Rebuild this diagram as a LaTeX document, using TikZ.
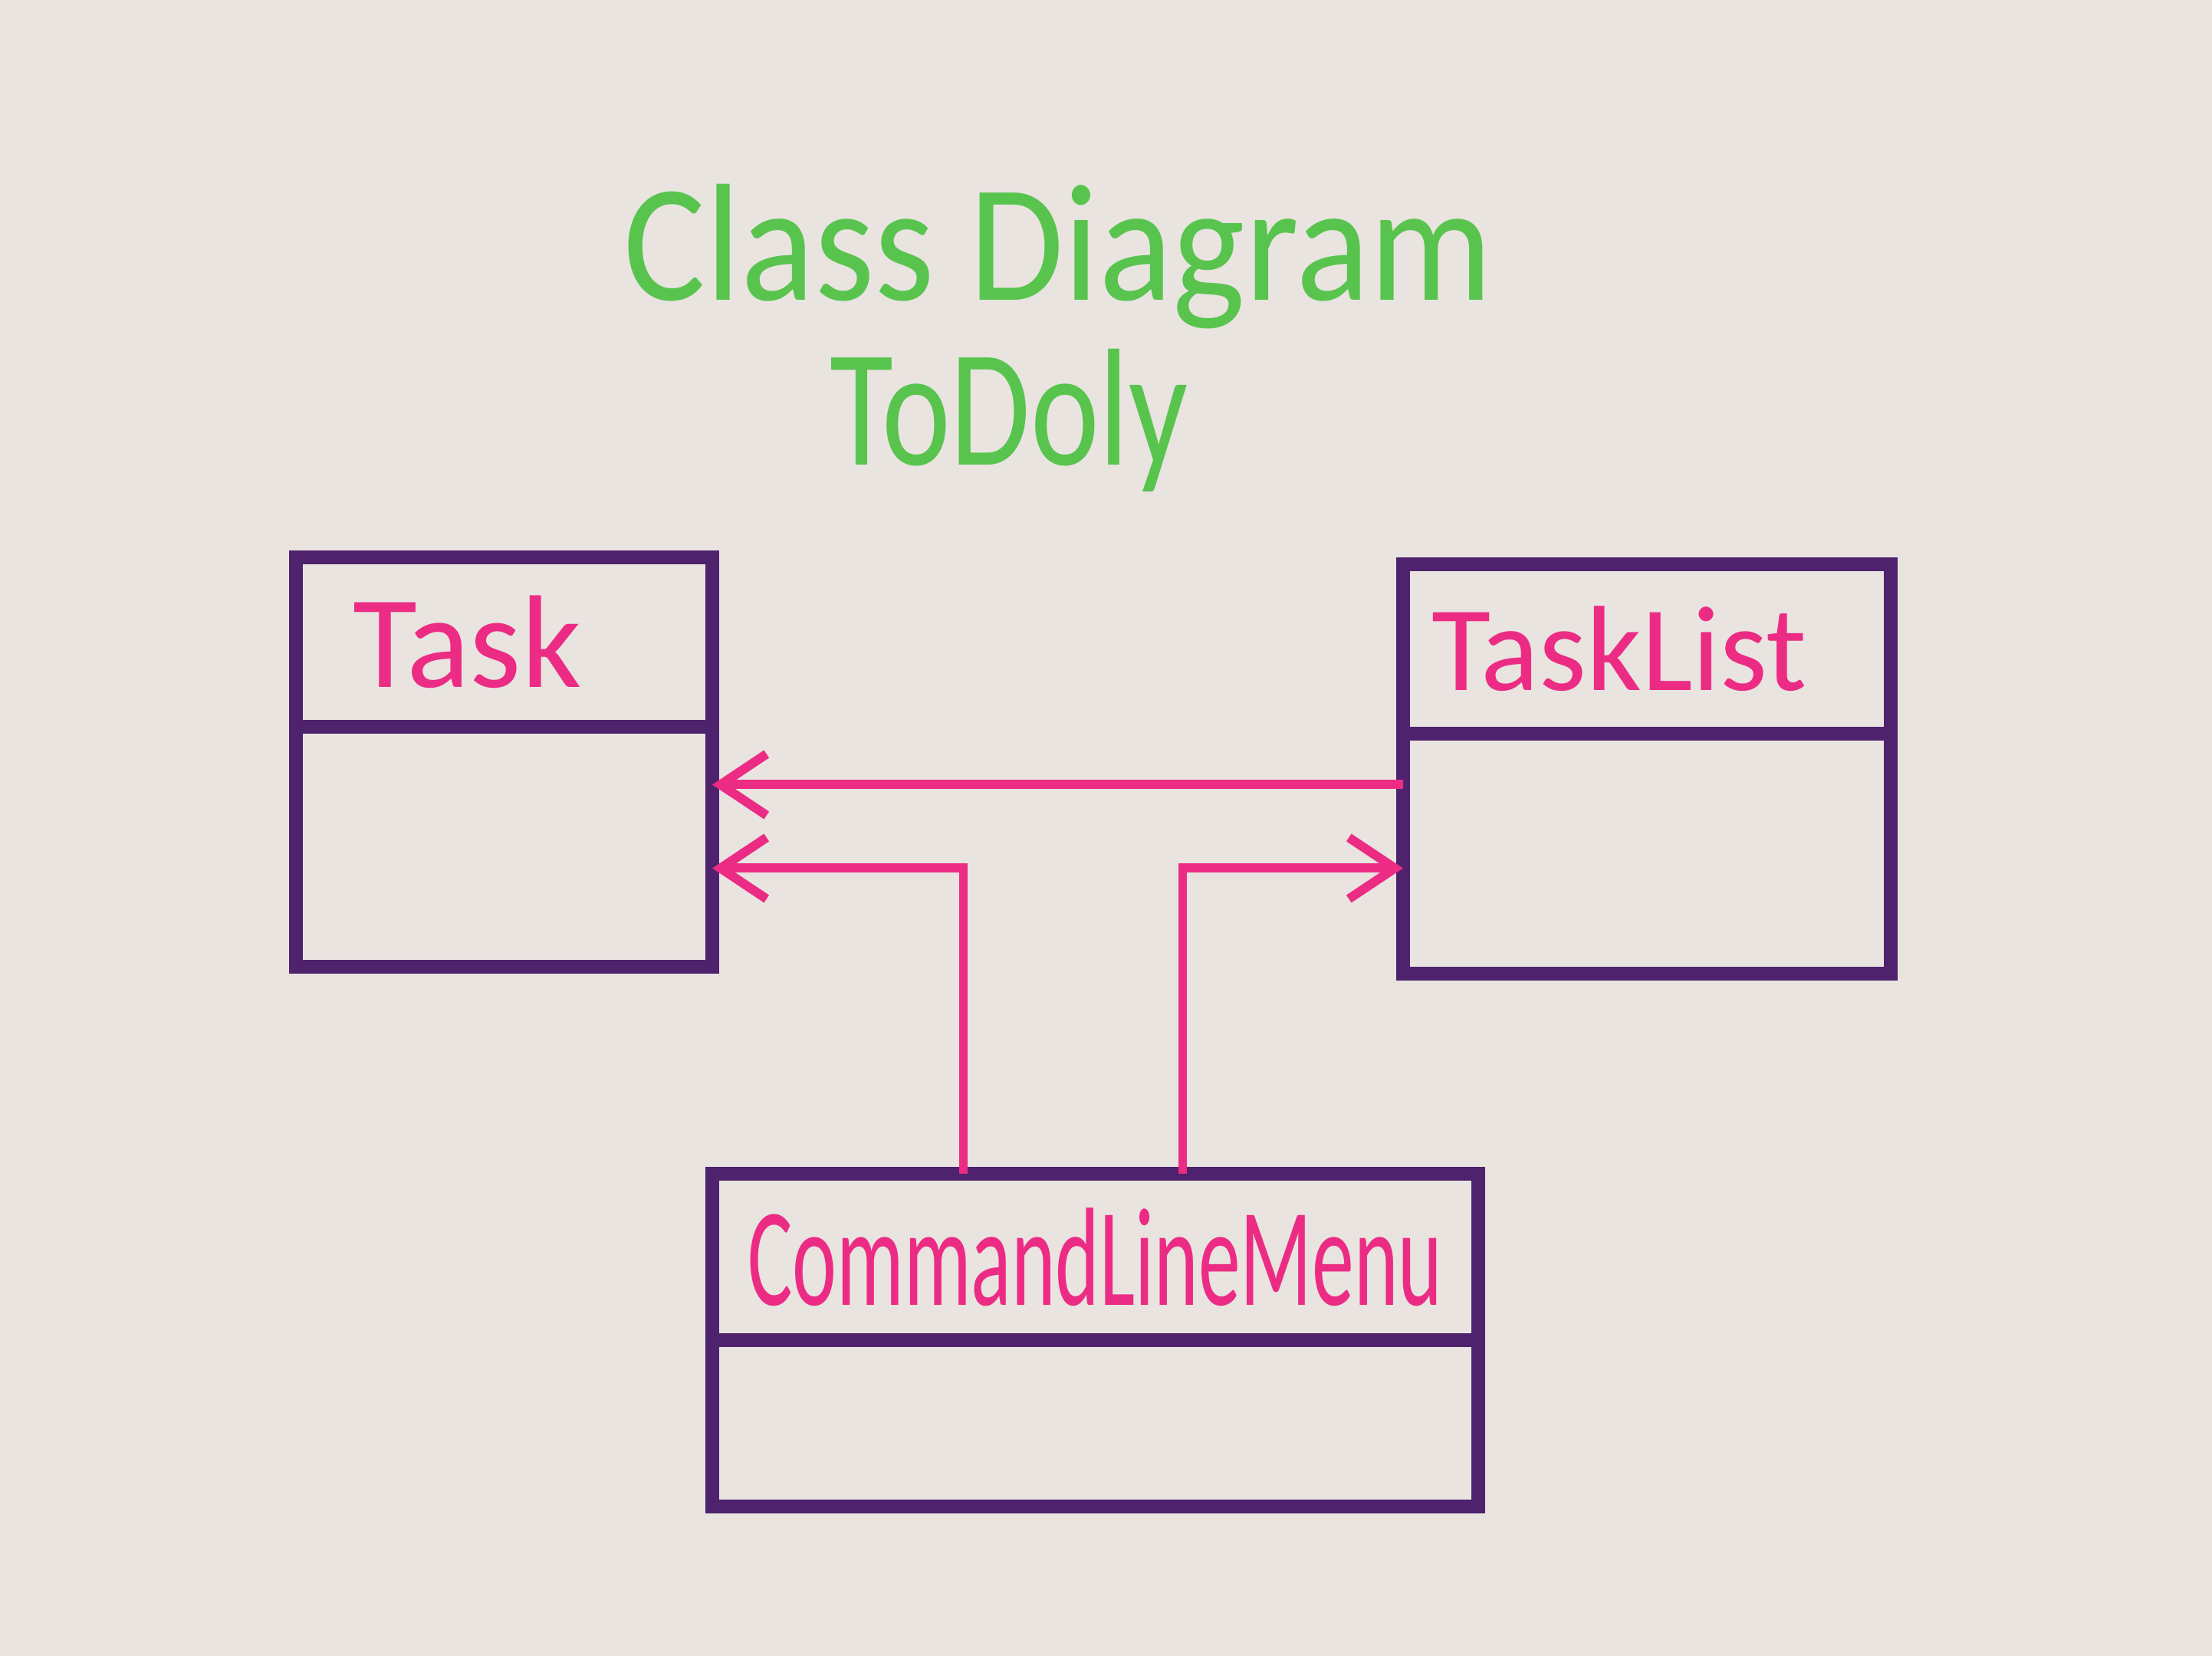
\documentclass[tikz,border=0pt]{standalone}
\usepackage{xcolor}
\usepackage{fontspec}
\setmainfont{Carlito}
\usepackage{tikz}
\usetikzlibrary{arrows.meta}
\usetikzlibrary{positioning}
\definecolor{paper}{RGB}{233,228,224}
\definecolor{marker}{RGB}{78,34,108}
\definecolor{pinkpen}{RGB}{236,44,132}
\definecolor{greenpen}{RGB}{88,196,78}
\tikzstyle{heading}=[text=greenpen,anchor=base,font=\fontsize{62}{70}\selectfont]
\tikzstyle{classname}=[draw=marker,line width=5pt,rectangle,outer sep=0pt,inner sep=0pt,align=left,text=pinkpen,font=\fontsize{45}{50}\selectfont]
\tikzstyle{classbody}=[draw=marker,line width=5pt,rectangle,outer sep=0pt]
\tikzstyle{assoc} = [>={Straight Barb[length=6mm,width=8mm]},draw,line width=3.4pt,pinkpen]

\begin{document}
\begin{tikzpicture}
\path[fill=paper] (0,0) rectangle (28.85,21.6);

	\node[heading] (title) at (13.8,17.68) {\scalebox{0.92}[1]{Class Diagram}};
	\node[heading] (app) at (13.16,15.53) {\scalebox{0.78}[1]{ToDoly}};

	\node[classname,minimum width=5.43cm,minimum height=2.21cm,text width=3.95cm,font=\fontsize{49}{54}\selectfont] (task) at (6.575,13.225) {Task};
	\node[classbody,minimum width=5.43cm,minimum height=3.13cm,below=0pt of task] (taskbody) {};

	\node[classname,minimum width=6.36cm,minimum height=2.21cm,text width=5.62cm] (tl) at (21.48,13.135) {TaskList};
	\node[classbody,minimum width=6.36cm,minimum height=3.13cm,below=0pt of tl] (tlbody) {};

	\node[classname,minimum width=9.99cm,minimum height=2.17cm,align=center,font=\fontsize{52}{58}\selectfont] (menu) at (14.285,5.205) {\scalebox{0.6}[1]{CommandLineMenu}};
	\node[classbody,minimum width=9.99cm,minimum height=2.17cm,below=0pt of menu] (menubody) {};


	\path[assoc,->] ([yshift=9mm]tlbody.west) -- ([yshift=9mm]tlbody.west -| taskbody.east);

	\path[assoc,->] ([xshift=-17.2mm]menu.north) |- ([yshift=-2.8mm]taskbody.east);

	\path[assoc,->] ([xshift=11.4mm]menu.north) |- ([yshift=-1.9mm]tlbody.west);
\end{tikzpicture}
\end{document}
